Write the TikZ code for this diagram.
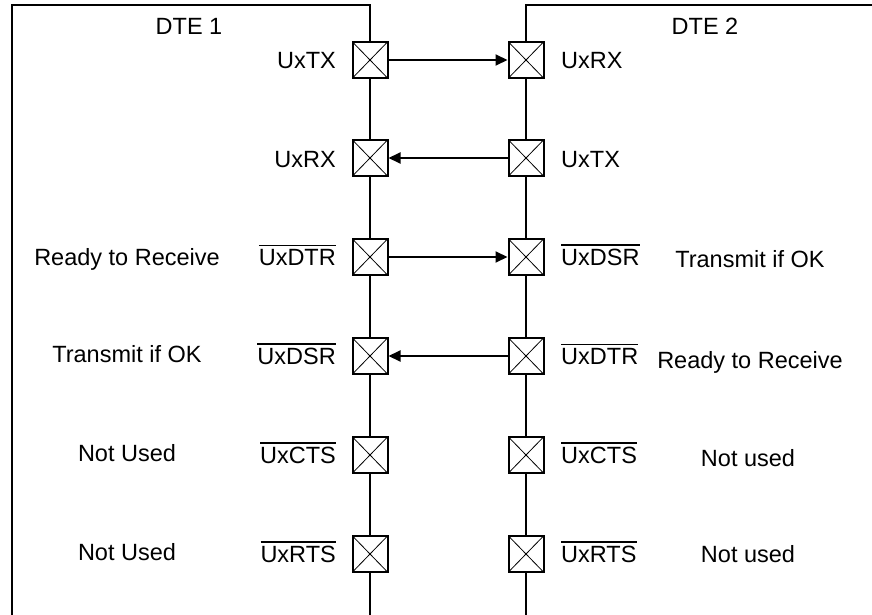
\documentclass[tikz,border=0pt]{standalone}
\usepackage{fontspec}
\setmainfont{Liberation Sans}
\usetikzlibrary{arrows.meta}
\newcommand{\ovl}[1]{\leavevmode\vbox{\hrule height 1.4pt\kern 3.2pt\hbox{#1}}}
\tikzset{
  pin/.style={draw, line width=2pt, fill=white, minimum width=35pt, minimum height=36pt, inner sep=0pt,
    path picture={\draw[line width=0.8pt] (path picture bounding box.north west) -- (path picture bounding box.south east)
      (path picture bounding box.south west) -- (path picture bounding box.north east);}},
  boxline/.style={line width=2pt},
  sig/.style={line width=2pt, -{Triangle[length=12pt,width=11pt]}},
  lbl/.style={inner sep=0pt, font=\fontsize{23.5}{28}\selectfont},
}
\begin{document}
\begin{tikzpicture}[x=1pt,y=-1pt]
\useasboundingbox (0,0) rectangle (872,615);
% DTE boxes
\coordinate (b1a) at (12,615);
\coordinate (b1b) at (12,5);
\coordinate (b1c) at (370,5);
\coordinate (b1d) at (370,615);
\coordinate (b2a) at (872,5);
\coordinate (b2b) at (526,5);
\coordinate (b2c) at (526,615);
\draw[boxline] (b1a) -- (b1b) -- (b1c) -- (b1d);
\draw[boxline] (b2a) -- (b2b) -- (b2c);
\node[lbl, anchor=base] (dte1) at (189,35) {DTE 1};
\node[lbl, anchor=base] (dte2) at (705,35) {DTE 2};
% pins
\foreach \i/\y in {1/60,2/158,3/257,4/356,5/455,6/554}{
  \node[pin] (L\i) at (370,\y) {};
  \node[pin] (R\i) at (526,\y) {};
}
% signals
\draw[sig] (L1.east) -- (R1.west);
\draw[sig] (R2.west) -- (L2.east);
\draw[sig] (L3.east) -- (R3.west);
\draw[sig] (R4.west) -- (L4.east);
% pin labels left
\node[lbl, anchor=base east] (l1) at (336,68.5) {UxTX};
\node[lbl, anchor=base east] (l2) at (336,167) {UxRX};
\node[lbl, anchor=base east] (l3) at (336,265.5) {\ovl{UxDTR}};
\node[lbl, anchor=base east] (l4) at (336,364.5) {\ovl{UxDSR}};
\node[lbl, anchor=base east] (l5) at (336,463.5) {\ovl{UxCTS}};
\node[lbl, anchor=base east] (l6) at (336,562.5) {\ovl{UxRTS}};
% pin labels right
\node[lbl, anchor=base west] (r1) at (561,68.5) {UxRX};
\node[lbl, anchor=base west] (r2) at (561,167) {UxTX};
\node[lbl, anchor=base west] (r3) at (561,265.5) {\ovl{UxDSR}};
\node[lbl, anchor=base west] (r4) at (561,364.5) {\ovl{UxDTR}};
\node[lbl, anchor=base west] (r5) at (561,463.5) {\ovl{UxCTS}};
\node[lbl, anchor=base west] (r6) at (561,562.5) {\ovl{UxRTS}};
% descriptions left
\node[lbl, anchor=base] (d3) at (127,265.5) {Ready to Receive};
\node[lbl, anchor=base] (d4) at (127,362) {Transmit if OK};
\node[lbl, anchor=base] (d5) at (127,461) {Not Used};
\node[lbl, anchor=base] (d6) at (127,560) {Not Used};
% descriptions right
\node[lbl, anchor=base] (e3) at (750,267) {Transmit if OK};
\node[lbl, anchor=base] (e4) at (750,368) {Ready to Receive};
\node[lbl, anchor=base] (e5) at (748,466) {Not used};
\node[lbl, anchor=base] (e6) at (748,562) {Not used};
\end{tikzpicture}
\end{document}
